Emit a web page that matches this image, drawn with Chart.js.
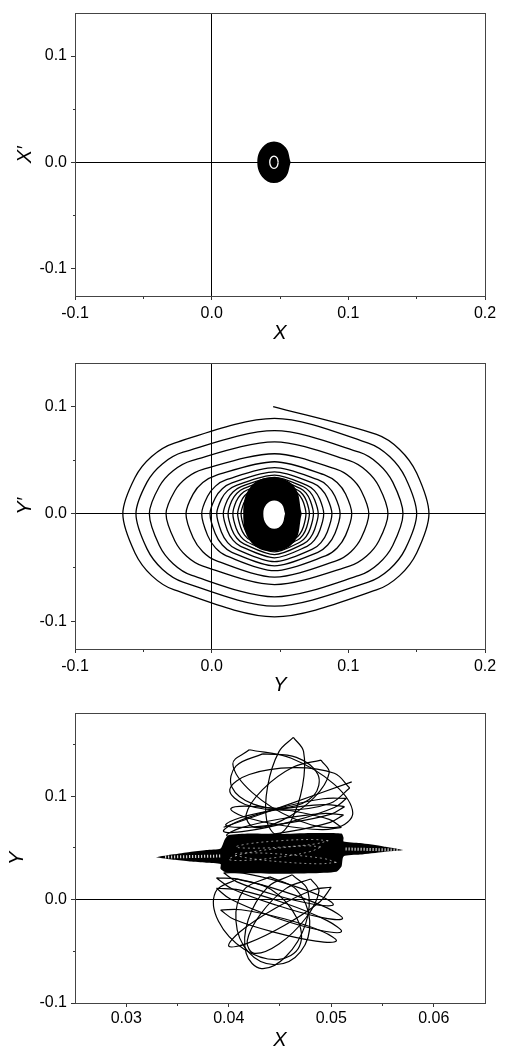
<!DOCTYPE html>
<html>
<head>
<meta charset="utf-8">
<script src="https://cdn.jsdelivr.net/npm/chart.js@4.4.1/dist/chart.umd.min.js"></script>
<style>
  body { margin: 0; background: #fff; overflow: hidden; }
  canvas { display: block; }
</style>
</head>
<body>
<canvas id="phaseX" width="505" height="350"></canvas>
<canvas id="phaseY" width="505" height="350"></canvas>
<canvas id="orbitXY" width="505" height="350"></canvas>
<script>
// ---- tick values / labels ----
const xTicksWide = [-0.1, -0.05, 0, 0.05, 0.1, 0.15, 0.2];
const xLabelsWide = ['-0.1', '', '0.0', '', '0.1', '', '0.2'];
const yTicksPhase = [-0.1, -0.05, 0, 0.05, 0.1];
const yLabelsPhase = ['-0.1', '', '0.0', '', '0.1'];
const xTicksZoom = [0.03, 0.035, 0.04, 0.045, 0.05, 0.055, 0.06];
const xLabelsZoom = ['0.03', '', '0.04', '', '0.05', '', '0.06'];
const yTicksZoom = [-0.1, -0.05, 0, 0.05, 0.1, 0.15];
const yLabelsZoom = ['-0.1', '', '0.0', '', '0.1', ''];

// ---- panel 1: X vs X' (tight spiral, reads as a solid blob) ----
const blobX = [[0.0578, 0], [0.0542, -0.0138], [0.0456, -0.0195], [0.037, -0.0138], [0.0334, 0],
  [0.037, 0.0138], [0.0456, 0.0195], [0.0542, 0.0138], [0.0578, 0]];
const ringX = [[0.0487, 0], [0.0478, -0.0041], [0.0456, -0.0058], [0.0434, -0.0041], [0.0425, 0],
  [0.0434, 0.0041], [0.0456, 0.0058], [0.0478, 0.0041], [0.0487, 0]];

// ---- panel 2: Y vs Y' spiral, one row per turn ----
const spiralY = [
  [0.045, 0.100], [0.1206, 0.074], [0.1375, 0.060], [0.150, 0.038], [0.159, 0], [0.150, -0.0365], [0.1375, -0.0576], [0.1206, -0.071],
  [0.046, -0.096], [-0.0273, -0.071], [-0.0439, -0.0576], [-0.0561, -0.0365], [-0.065, 0], [-0.0561, 0.0338], [-0.0439, 0.0534], [-0.0273, 0.0659],
  [0.046, 0.089], [0.1146, 0.0659], [0.1302, 0.0534], [0.1417, 0.0338], [0.150, 0], [0.1417, -0.0327], [0.1302, -0.0516], [0.1146, -0.0636],
  [0.046, -0.086], [-0.0209, -0.0636], [-0.0361, -0.0516], [-0.0473, -0.0327], [-0.0554, 0], [-0.0473, 0.0295], [-0.0361, 0.0465], [-0.0209, 0.0574],
  [0.046, 0.0775], [0.108, 0.0574], [0.1221, 0.0465], [0.1325, 0.0295], [0.140, 0], [0.1325, -0.0295], [0.1221, -0.0465], [0.108, -0.0574],
  [0.046, -0.0775], [-0.0145, -0.0574], [-0.0282, -0.0465], [-0.0383, -0.0295], [-0.0456, 0], [-0.0383, 0.0255], [-0.0282, 0.0402], [-0.0145, 0.0496],
  [0.046, 0.067], [0.1008, 0.0496], [0.1132, 0.0402], [0.1224, 0.0255], [0.129, 0], [0.1224, -0.0251], [0.1132, -0.0396], [0.1008, -0.0488],
  [0.046, -0.066], [-0.0064, -0.0488], [-0.0183, -0.0396], [-0.027, -0.0251], [-0.0334, 0], [-0.027, 0.0213], [-0.0183, 0.0336], [-0.0064, 0.0414],
  [0.046, 0.056], [0.0915, 0.0414], [0.1019, 0.0336], [0.1095, 0.0213], [0.115, 0], [0.1095, -0.0224], [0.1019, -0.0354], [0.0915, -0.0437],
  [0.046, -0.059], [0.0032, -0.0437], [-0.0065, -0.0354], [-0.0136, -0.0224], [-0.0188, 0], [-0.0136, 0.0184], [-0.0065, 0.0291], [0.0032, 0.0359],
  [0.046, 0.0485], [0.0833, 0.0359], [0.0918, 0.0291], [0.098, 0.0184], [0.1025, 0], [0.098, -0.0201], [0.0918, -0.0318], [0.0833, -0.0392],
  [0.046, -0.053], [0.0108, -0.0392], [0.0028, -0.0318], [-0.003, -0.0201], [-0.0073, 0], [-0.003, 0.0163], [0.0028, 0.0258], [0.0108, 0.0318],
  [0.046, 0.043], [0.0777, 0.0318], [0.0849, 0.0258], [0.0902, 0.0163], [0.094, 0], [0.0902, -0.0184], [0.0849, -0.0291], [0.0777, -0.0359],
  [0.046, -0.0485], [0.0148, -0.0359], [0.0078, -0.0291], [0.0026, -0.0184], [-0.0012, 0], [0.0026, 0.0148], [0.0078, 0.0234], [0.0148, 0.0289],
  [0.046, 0.039], [0.0737, 0.0289], [0.080, 0.0234], [0.0846, 0.0148], [0.088, 0], [0.0846, -0.0169], [0.080, -0.0268], [0.0737, -0.033],
  [0.046, -0.0446], [0.0181, -0.033], [0.0117, -0.0268], [0.0071, -0.0169], [0.0037, 0], [0.0071, 0.0137], [0.0117, 0.0216], [0.0181, 0.0266],
  [0.046, 0.036], [0.0698, 0.0266], [0.0752, 0.0216], [0.0791, 0.0137], [0.082, 0], [0.0791, -0.0156], [0.0752, -0.0246], [0.0698, -0.0303],
  [0.046, -0.041], [0.0212, -0.0303], [0.0156, -0.0246], [0.0115, -0.0156], [0.0085, 0], [0.0115, 0.0129], [0.0156, 0.0204], [0.0212, 0.0252],
  [0.046, 0.034], [0.0671, 0.0252], [0.0719, 0.0204], [0.0754, 0.0129], [0.078, 0], [0.0754, -0.0144], [0.0719, -0.0228], [0.0671, -0.0281],
  [0.046, -0.038], [0.0236, -0.0281], [0.0185, -0.0228], [0.0147, -0.0144], [0.012, 0], [0.0147, 0.0122], [0.0185, 0.0192], [0.0236, 0.0237],
  [0.046, 0.032], [0.0648, 0.0237], [0.0691, 0.0192], [0.0722, 0.0122], [0.0745, 0], [0.0722, -0.0135], [0.0691, -0.0213], [0.0648, -0.0263],
  [0.046, -0.0355], [0.0259, -0.0263], [0.0213, -0.0213], [0.0179, -0.0135], [0.0155, 0], [0.0179, 0.0114], [0.0213, 0.018], [0.0259, 0.0222],
  [0.046, 0.030], [0.0628, 0.0222], [0.0667, 0.018], [0.0695, 0.0114], [0.0715, 0], [0.0695, -0.0125], [0.0667, -0.0198], [0.0628, -0.0244],
  [0.046, -0.033], [0.0282, -0.0244], [0.0241, -0.0198], [0.0212, -0.0125], [0.019, 0], [0.0212, 0.0106], [0.0241, 0.0168], [0.0282, 0.0207],
  [0.046, 0.028], [0.0612, 0.0207], [0.0646, 0.0168], [0.0672, 0.0106], [0.069, 0], [0.0672, -0.0118], [0.0646, -0.0186], [0.0612, -0.0229],
  [0.046, -0.031], [0.0298, -0.0229], [0.0262, -0.0186], [0.0235, -0.0118], [0.0215, 0], [0.0235, 0.0099], [0.0262, 0.0156], [0.0298, 0.0192],
  [0.046, 0.026]
];
// dense inner turns and the empty centre
const coreY = [[0.0659, 0], [0.0605, -0.026], [0.0445, -0.035], [0.0285, -0.026], [0.0231, 0],
  [0.0285, 0.0253], [0.0445, 0.034], [0.0605, 0.0253], [0.0659, 0]];
const holeY = [[0.0537, 0], [0.0514, -0.0099], [0.0458, -0.014], [0.0401, -0.0099], [0.0378, 0],
  [0.0401, 0.0088], [0.0458, 0.0125], [0.0514, 0.0088], [0.0537, 0]];

// ---- panel 3: X vs Y orbit ----
const bandXY = [
  [0.0329, 0.041], [0.0346, 0.0438], [0.0362, 0.0462], [0.0378, 0.048], [0.0392, 0.0495],
  [0.0396, 0.058], [0.04, 0.0625], [0.042, 0.064], [0.045, 0.0635], [0.048, 0.0645], [0.051, 0.064],
  [0.0512, 0.06], [0.0512, 0.0563], [0.0528, 0.0547], [0.0551, 0.0515], [0.057, 0.048],
  [0.0551, 0.0462], [0.0528, 0.0436], [0.0512, 0.0418], [0.051, 0.032], [0.0505, 0.027],
  [0.048, 0.0255], [0.045, 0.025], [0.042, 0.0255], [0.0397, 0.0265], [0.0392, 0.03], [0.0392, 0.0345],
  [0.0378, 0.0358], [0.0362, 0.037], [0.0346, 0.0385], [0.0329, 0.041]
];
const hatchLeft = [[0.0338, 0.0412], [0.0392, 0.0422]];
const hatchRight = [[0.0514, 0.049], [0.0565, 0.048]];
// light gaps between the packed turns inside the band
const gapsBand = [
  [[0.049, 0.051], [0.0475, 0.0521], [0.0442, 0.049], [0.0411, 0.0436], [0.040, 0.039], [0.0415, 0.0379], [0.0448, 0.041], [0.0479, 0.0464], [0.049, 0.051]],
  [[0.0505, 0.036], [0.0493, 0.0397], [0.0458, 0.0435], [0.0422, 0.0453], [0.0405, 0.044], [0.0418, 0.0404], [0.0452, 0.0365], [0.0488, 0.0347], [0.0505, 0.036]],
  [[0.0497, 0.057], [0.0482, 0.0582], [0.045, 0.057], [0.0419, 0.054], [0.0407, 0.051], [0.0422, 0.0498], [0.0454, 0.051], [0.0485, 0.054], [0.0497, 0.057]]
];
const loopsUpper = [
  [[0.0463, 0.157], [0.0473, 0.1432], [0.0472, 0.110], [0.0461, 0.0768], [0.0447, 0.063], [0.0437, 0.0768], [0.0438, 0.110], [0.0449, 0.1432], [0.0463, 0.157]],
  [[0.042, 0.145], [0.0461, 0.1368], [0.0503, 0.1115], [0.0521, 0.0838], [0.0505, 0.070], [0.0464, 0.0782], [0.0423, 0.1035], [0.0404, 0.1312], [0.042, 0.145]],
  [[0.0518, 0.108], [0.0503, 0.1223], [0.0463, 0.1277], [0.042, 0.1211], [0.0401, 0.1064], [0.0416, 0.0921], [0.0457, 0.0867], [0.0499, 0.0933], [0.0518, 0.108]],
  [[0.049, 0.135], [0.0498, 0.1227], [0.0483, 0.0985], [0.0452, 0.0767], [0.0425, 0.070], [0.0417, 0.0824], [0.0433, 0.1065], [0.0463, 0.1283], [0.049, 0.135]],
  [[0.0515, 0.098], [0.0492, 0.0976], [0.0447, 0.088], [0.0407, 0.0749], [0.0395, 0.066], [0.0418, 0.0665], [0.0463, 0.076], [0.0503, 0.0891], [0.0515, 0.098]],
  [[0.0513, 0.090], [0.0493, 0.092], [0.045, 0.0875], [0.0411, 0.0792], [0.0397, 0.072], [0.0418, 0.070], [0.046, 0.0745], [0.050, 0.0828], [0.0513, 0.090]],
  [[0.0512, 0.082], [0.0492, 0.0833], [0.045, 0.078], [0.0411, 0.0692], [0.0398, 0.062], [0.0418, 0.0607], [0.046, 0.066], [0.0499, 0.0748], [0.0512, 0.082]],
  [[0.051, 0.070], [0.0498, 0.0776], [0.0461, 0.086], [0.0421, 0.0903], [0.0402, 0.088], [0.0414, 0.0804], [0.0451, 0.072], [0.0491, 0.0677], [0.051, 0.070]],
  [[0.0433, 0.141], [0.0466, 0.1376], [0.0487, 0.121], [0.0483, 0.1009], [0.0457, 0.089], [0.0424, 0.0924], [0.0403, 0.109], [0.0407, 0.1291], [0.0433, 0.141]],
  [[0.0395, 0.070], [0.0455, 0.091], [0.052, 0.114]]
];
const loopsLower = [
  [[0.0388, 0.011], [0.041, 0.0094], [0.0455, -0.0035], [0.0496, -0.0203], [0.051, -0.031], [0.0488, -0.0294], [0.0443, -0.0165], [0.0402, 0.0003], [0.0388, 0.011]],
  [[0.0388, 0.021], [0.0409, 0.0198], [0.0454, 0.0078], [0.0496, -0.008], [0.0511, -0.0184], [0.049, -0.0172], [0.0446, -0.0052], [0.0403, 0.0106], [0.0388, 0.021]],
  [[0.0462, 0.024], [0.0477, 0.0093], [0.0475, -0.0234], [0.0456, -0.0548], [0.0432, -0.0667], [0.0417, -0.052], [0.0419, -0.0194], [0.0438, 0.0121], [0.0462, 0.024]],
  [[0.0408, 0.020], [0.0441, 0.010], [0.0466, -0.017], [0.0469, -0.0452], [0.0448, -0.058], [0.0415, -0.048], [0.039, -0.021], [0.0387, 0.0072], [0.0408, 0.020]],
  [[0.050, 0.012], [0.0482, 0.0093], [0.0445, -0.0085], [0.0411, -0.031], [0.040, -0.045], [0.0418, -0.0423], [0.0455, -0.0245], [0.0489, -0.002], [0.050, 0.012]],
  [[0.0392, -0.010], [0.0412, -0.0098], [0.0454, -0.0185], [0.0492, -0.031], [0.0505, -0.040], [0.0485, -0.0402], [0.0444, -0.0315], [0.0405, -0.019], [0.0392, -0.010]],
  [[0.044, 0.022], [0.0466, 0.0096], [0.0479, -0.0205], [0.047, -0.0506], [0.0445, -0.063], [0.0419, -0.0506], [0.0407, -0.0205], [0.0415, 0.0096], [0.044, 0.022]],
  [[0.0395, 0.026], [0.0414, 0.0257], [0.0453, 0.0165], [0.0489, 0.0038], [0.0502, -0.005], [0.0484, -0.0047], [0.0445, 0.0045], [0.0408, 0.0172], [0.0395, 0.026]],
  [[0.048, 0.020], [0.0488, 0.008], [0.0475, -0.018], [0.0449, -0.0429], [0.0425, -0.052], [0.0418, -0.040], [0.0431, -0.014], [0.0456, 0.0109], [0.048, 0.020]]
];

const pts = arr => arr.map(([x, y]) => ({ x, y }));
const tickFont = { family: 'Liberation Sans, Arial, sans-serif', size: 16 };
const titleFont = { family: 'Liberation Sans, Arial, sans-serif', size: 20, style: 'italic', lineHeight: 1 };

function axisX(min, max, ticks, labels, title, height, labelPad, titlePad) {
  return {
    type: 'linear', position: 'bottom', min: min, max: max,
    afterBuildTicks: s => { s.ticks = ticks.map(v => ({ value: v })); },
    afterFit: s => { s.height = height; },
    ticks: { autoSkip: false, maxRotation: 0, padding: labelPad, font: tickFont, color: '#000',
      callback: (v, i) => labels[i] },
    grid: {
      color: c => (c.tick && c.tick.value === 0 ? '#000' : 'rgba(0,0,0,0)'),
      tickLength: 4, tickColor: '#333',
      tickBorderDash: c => (labels[c.index] === '' ? [2, 2] : []),
    },
    border: { color: '#444', width: 1 },
    title: { display: true, text: title, font: titleFont, color: '#000', padding: { top: 0, bottom: titlePad } }
  };
}

function axisY(min, max, ticks, labels, title, titlePad) {
  return {
    type: 'linear', position: 'left', min: min, max: max,
    afterBuildTicks: s => { s.ticks = ticks.map(v => ({ value: v })); },
    afterFit: s => { s.width = 75; },
    ticks: { autoSkip: false, padding: 4, font: tickFont, color: '#000',
      callback: (v, i) => labels[i] },
    grid: {
      color: c => (c.tick && c.tick.value === 0 ? '#000' : 'rgba(0,0,0,0)'),
      tickLength: 4, tickColor: '#333',
      tickBorderDash: c => (labels[c.index] === '' ? [2, 2] : []),
      tickBorderDashOffset: c => (labels[c.index] === '' ? 2 : 0),
    },
    border: { color: '#444', width: 1 },
    title: { display: true, text: title, font: titleFont, color: '#000', padding: { top: titlePad, bottom: 0 } }
  };
}

// top and right edges of the frame
const frameTop = { type: 'linear', position: 'top', ticks: { display: false }, grid: { display: false },
  border: { color: '#444', width: 1 }, afterFit: s => { s.height = 0; } };
const frameRight = { type: 'linear', position: 'right', ticks: { display: false }, grid: { display: false },
  border: { color: '#444', width: 1 }, afterFit: s => { s.width = 0; } };

function drawPanel(id, datasets, x, y, padTop) {
  new Chart(document.getElementById(id), {
    type: 'line',
    data: { datasets: datasets },
    options: {
      responsive: false, animation: false, events: [],
      layout: { padding: { top: padTop, right: 20, left: 0, bottom: 0 } },
      plugins: { legend: { display: false }, tooltip: { enabled: false } },
      elements: { point: { radius: 0 } },
      scales: { x: x, y: y, xTop: frameTop, yRight: frameRight }
    }
  });
}

function solid(data, color, order) {
  return { data: pts(data), fill: 'shape', backgroundColor: color, borderWidth: 0, tension: 0.4, order: order };
}
function curve(data, color, width, tension, order) {
  return { data: pts(data), fill: false, borderColor: color, borderWidth: width, tension: tension, order: order };
}

drawPanel('phaseX', [
  curve(ringX, '#fff', 1.3, 0.4, 0),
  solid(blobX, '#000', 1)
], axisX(-0.1, 0.2, xTicksWide, xLabelsWide, 'X', 54, 4, 7),
   axisY(-0.126, 0.14, yTicksPhase, yLabelsPhase, 'X\u2032', 15), 6);

drawPanel('phaseY', [
  solid(holeY, '#fff', 0),
  solid(coreY, '#000', 1),
  curve(spiralY, '#000', 1.3, 0.3, 2)
], axisX(-0.1, 0.2, xTicksWide, xLabelsWide, 'Y', 51, 4, 5),
   axisY(-0.126, 0.14, yTicksPhase, yLabelsPhase, 'Y\u2032', 15), 9);

const hatchL = curve(hatchLeft, '#fff', 3, 0, 0);
hatchL.borderDash = [1, 2];
const hatchR = curve(hatchRight, '#fff', 3, 0, 0);
hatchR.borderDash = [1, 2];
const band = solid(bandXY, '#000', 1);
band.tension = 0.2;
const orbitSets = [hatchL, hatchR, band];
gapsBand.forEach(loop => {
  const g = curve(loop, 'rgba(255,255,255,0.8)', 0.7, 0.38, 0);
  g.borderDash = [2, 3];
  orbitSets.push(g);
});
loopsUpper.concat(loopsLower).forEach(loop => orbitSets.push(curve(loop, '#000', 1.2, 0.38, 2)));

drawPanel('orbitXY', orbitSets,
  axisX(0.025, 0.065, xTicksZoom, xLabelsZoom, 'X', 47, 2, 0),
  axisY(-0.1, 0.18, yTicksZoom, yLabelsZoom, 'Y', 7), 13);
</script>
</body>
</html>
